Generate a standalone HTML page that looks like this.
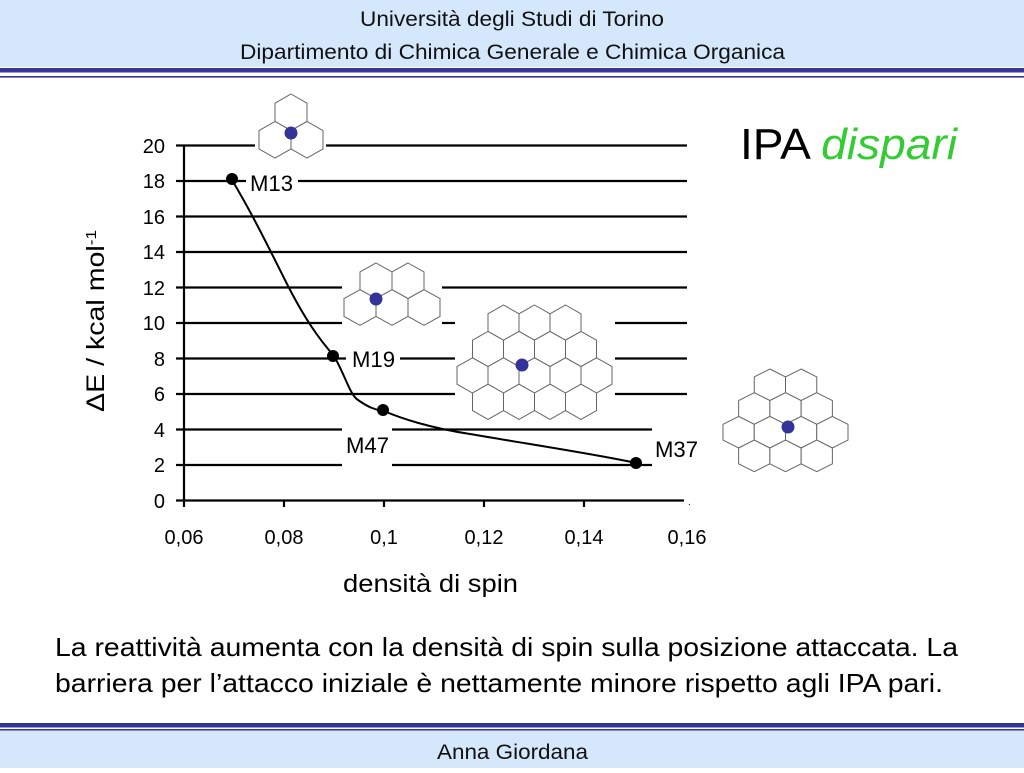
<!DOCTYPE html>
<html><head><meta charset="utf-8">
<style>
body{margin:0;width:1024px;height:768px;overflow:hidden;background:#fff;font-family:"Liberation Sans",sans-serif;}
</style></head>
<body>
<svg id="s" width="1024" height="768" xmlns="http://www.w3.org/2000/svg" font-family="Liberation Sans, sans-serif">
<rect x="0" y="0" width="1024" height="67" fill="#d5e7fb"/>
<rect x="0" y="68" width="1024" height="4.5" fill="#35359a"/>
<rect x="0" y="76" width="1024" height="1.6" fill="#35359a"/>
<text x="360" y="26" font-size="21" textLength="304" lengthAdjust="spacingAndGlyphs" fill="#111">Università degli Studi di Torino</text>
<text x="240" y="59" font-size="21" textLength="545" lengthAdjust="spacingAndGlyphs" fill="#111">Dipartimento di Chimica Generale e Chimica Organica</text>
<rect x="0" y="731" width="1024" height="37" fill="#d5e7fb"/>
<rect x="0" y="723" width="1024" height="4.5" fill="#35359a"/>
<rect x="0" y="729" width="1024" height="1.6" fill="#35359a"/>
<text x="437" y="759" font-size="21" textLength="151" lengthAdjust="spacingAndGlyphs" fill="#111">Anna Giordana</text>

<text x="740" y="159" font-size="44" textLength="217" lengthAdjust="spacingAndGlyphs" fill="#000">IPA <tspan fill="#33cc33" font-style="italic">dispari</tspan></text>

<g stroke="#000" stroke-width="2.2" fill="none">
<line x1="176" y1="145.5" x2="255" y2="145.5"/><line x1="326" y1="145.5" x2="687" y2="145.5"/>
<line x1="176" y1="181" x2="246" y2="181"/><line x1="298" y1="181" x2="687" y2="181"/>
<line x1="176" y1="216.5" x2="687" y2="216.5"/>
<line x1="176" y1="252" x2="687" y2="252"/>
<line x1="176" y1="287.5" x2="342" y2="287.5"/><line x1="442" y1="287.5" x2="687" y2="287.5"/>
<line x1="176" y1="323" x2="342" y2="323"/><line x1="442" y1="323" x2="455" y2="323"/><line x1="615" y1="323" x2="687" y2="323"/>
<line x1="176" y1="358.5" x2="346" y2="358.5"/><line x1="400" y1="358.5" x2="455" y2="358.5"/><line x1="615" y1="358.5" x2="687" y2="358.5"/>
<line x1="176" y1="394" x2="455" y2="394"/><line x1="615" y1="394" x2="687" y2="394"/>
<line x1="176" y1="429.5" x2="342" y2="429.5"/><line x1="392" y1="429.5" x2="652" y2="429.5"/>
<line x1="176" y1="465" x2="342" y2="465"/><line x1="392" y1="465" x2="652" y2="465"/>
<line x1="176" y1="500.5" x2="684" y2="500.5"/>
<line x1="184" y1="145" x2="184" y2="501"/>
<line x1="284" y1="500" x2="284" y2="507"/><line x1="384" y1="500" x2="384" y2="507"/>
<line x1="484" y1="500" x2="484" y2="507"/><line x1="584" y1="500" x2="584" y2="507"/>
<line x1="184" y1="500" x2="184" y2="507"/>
</g>
<g font-size="20" text-anchor="end" fill="#000">
<text x="165" y="153">20</text><text x="165" y="188">18</text><text x="165" y="224">16</text>
<text x="165" y="259">14</text><text x="165" y="295">12</text><text x="165" y="330">10</text>
<text x="165" y="366">8</text><text x="165" y="401">6</text><text x="165" y="437">4</text>
<text x="165" y="472">2</text><text x="165" y="508">0</text>
</g>
<g font-size="20" text-anchor="middle" fill="#000">
<text x="184" y="544">0,06</text><text x="284" y="544">0,08</text><text x="384" y="544">0,1</text>
<text x="484" y="544">0,12</text><text x="584" y="544">0,14</text><text x="687" y="544">0,16</text>
</g>
<text x="688" y="505" font-size="10">.</text>
<text x="343" y="592" font-size="25" textLength="175" lengthAdjust="spacingAndGlyphs">densità di spin</text>
<text transform="translate(104,412) rotate(-90)" font-size="25" textLength="182" lengthAdjust="spacingAndGlyphs">ΔE / kcal mol<tspan font-size="15" dy="-8">-1</tspan></text>

<path d="M232,180 C250,210 265,240 285,280 S320,340 334,356 C345,375 350,395 358,400 C368,407 375,410 384,411 C400,418 430,428 470,434 C540,446 600,455 636,463" stroke="#000" stroke-width="2" fill="none"/>
<g fill="#000"><circle cx="232" cy="179" r="6"/><circle cx="333" cy="356" r="6"/><circle cx="383" cy="410" r="6"/><circle cx="636" cy="463" r="6"/></g>
<g font-size="22" fill="#000">
<text x="250" y="191" textLength="43" lengthAdjust="spacingAndGlyphs">M13</text>
<text x="352" y="367" textLength="43" lengthAdjust="spacingAndGlyphs">M19</text>
<text x="346" y="453" textLength="43" lengthAdjust="spacingAndGlyphs">M47</text>
<text x="655" y="457" textLength="43" lengthAdjust="spacingAndGlyphs">M37</text>
</g>
<g id="hex" fill="#fff" stroke="#666" stroke-width="1"></g>
<g id="dots" fill="#333399"></g>
<text x="55" y="656" font-size="26" textLength="903" lengthAdjust="spacingAndGlyphs">La reattività aumenta con la densità di spin sulla posizione attaccata. La</text>
<text x="55" y="692" font-size="26" textLength="888" lengthAdjust="spacingAndGlyphs">barriera per l’attacco iniziale è nettamente minore rispetto agli IPA pari.</text>
</svg>
<script>
var g=document.getElementById('hex'),d=document.getElementById('dots');
function hx(cx,cy,w,R){var h=w/2,p=[[cx,cy-R],[cx+h,cy-R/2],[cx+h,cy+R/2],[cx,cy+R],[cx-h,cy+R/2],[cx-h,cy-R/2]];
var e=document.createElementNS('http://www.w3.org/2000/svg','polygon');e.setAttribute('points',p.map(function(q){return q.join(',')}).join(' '));g.appendChild(e);}
function cl(rows,x0,y0,w,R){rows.forEach(function(r,i){for(var k=0;k<r[1];k++)hx(x0+r[0]*w/2+k*w+w/2,y0+R+i*1.5*R,w,R);});}
function dot(x,y){var c=document.createElementNS('http://www.w3.org/2000/svg','circle');c.setAttribute('cx',x);c.setAttribute('cy',y);c.setAttribute('r',6.5);d.appendChild(c);}
cl([[1,1],[0,2]],259,94,32,18.3);dot(291,133);
cl([[1,2],[0,3]],344,263,32,17.8);dot(376,299);
cl([[2,3],[1,4],[0,5],[1,4]],457,305,31,17.6);dot(522,365);
cl([[2,2],[1,3],[0,4],[1,3]],723,369,31.25,15.8);dot(788,427);
</script>
</body></html>
